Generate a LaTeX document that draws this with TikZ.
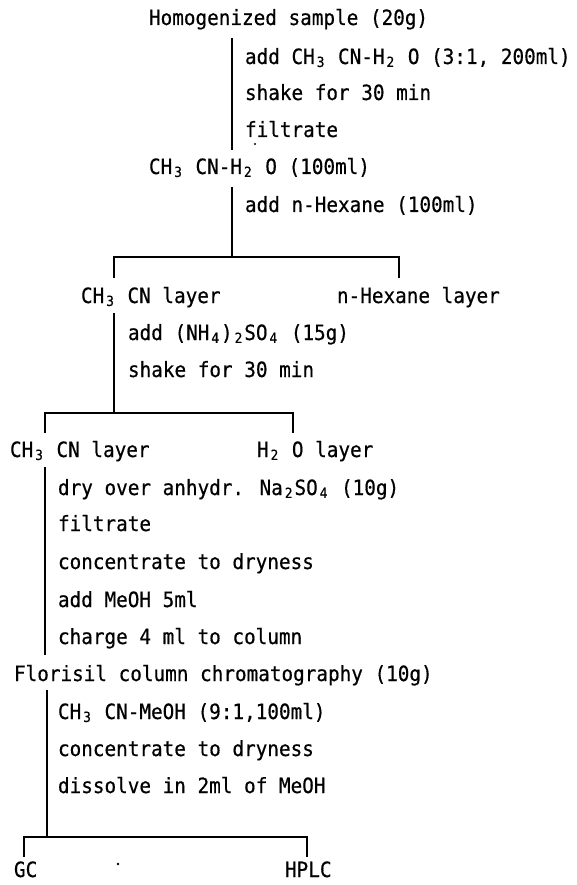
\documentclass[tikz,border=0pt]{standalone}
\usepackage{fontspec}
\newfontfamily\dmono[FakeStretch=0.92,FakeBold=0.5]{DejaVu Sans Mono}
\newsavebox\cellbox
\newcommand\sbs[1]{\sbox\cellbox{0}\makebox[\wd\cellbox][c]{\raisebox{-0.14em}{\fontsize{14}{14}\selectfont #1}}}
\tikzset{
  txt/.style={anchor=base west, inner sep=0pt, outer sep=0pt, font=\fontsize{21}{22}\dmono},
  ln/.style={line width=1.1pt, line cap=butt},
}
\begin{document}
\begin{tikzpicture}[x=1pt,y=-1pt]
\path[use as bounding box, fill=white] (0,0) rectangle (576,885);
% texts
\node[txt] (t1) at (149,25) {Homogenized sample (20g)};
\node[txt] (t2) at (245,64) {add CH\sbs{3} CN-H\sbs{2} O (3:1, 200ml)};
\node[txt] (t3) at (245,100) {shake for 30 min};
\node[txt] (t4) at (245,137) {filtrate};
\node[txt] (t5) at (149,174) {CH\sbs{3} CN-H\sbs{2} O (100ml)};
\node[txt] (t6) at (245,212) {add n-Hexane (100ml)};
\node[txt] (t7) at (81,303) {CH\sbs{3} CN layer};
\node[txt] (t8) at (337,303) {n-Hexane layer};
\node[txt] (t9) at (128,340) {add (NH\sbs{4})\sbs{2}SO\sbs{4} (15g)};
\node[txt] (t10) at (128,377) {shake for 30 min};
\node[txt] (t11) at (10,457) {CH\sbs{3} CN layer};
\node[txt] (t12) at (257,457) {H\sbs{2} O layer};
\node[txt] (t13) at (58,495) {dry over anhydr. Na\sbs{2}SO\sbs{4} (10g)};
\node[txt] (t14) at (58,531) {filtrate};
\node[txt] (t15) at (58,569) {concentrate to dryness};
\node[txt] (t16) at (58,607) {add MeOH 5ml};
\node[txt] (t17) at (58,644) {charge 4 ml to column};
\node[txt] (t18) at (14,681) {Florisil column chromatography (10g)};
\node[txt] (t19) at (58,719) {CH\sbs{3} CN-MeOH (9:1,100ml)};
\node[txt] (t20) at (58,756) {concentrate to dryness};
\node[txt] (t21) at (58,793) {dissolve in 2ml of MeOH};
\node[txt] (t22) at (14,877) {GC};
\node[txt] (t23) at (285,877) {HPLC};
% connector points
\coordinate (a1) at (232,38);
\coordinate (a2) at (232,150);
\coordinate (b1) at (232,187);
\coordinate (b2) at (232,257);
\coordinate (b3) at (114,257);
\coordinate (b4) at (399,257);
\coordinate (b5) at (114,278);
\coordinate (b6) at (399,278);
\coordinate (c1) at (114,313);
\coordinate (c2) at (114,413);
\coordinate (c3) at (45,413);
\coordinate (c4) at (293,413);
\coordinate (c5) at (45,433);
\coordinate (c6) at (293,433);
\coordinate (d1) at (45,467);
\coordinate (d2) at (45,655);
\coordinate (e1) at (47,690);
\coordinate (e2) at (47,837);
\coordinate (e3) at (24,837);
\coordinate (e4) at (307,837);
\coordinate (e5) at (24,857);
\coordinate (e6) at (307,857);
% connectors
\draw[ln] (a1) -- (a2);
\draw[ln] (b1) -- (b2);
\draw[ln] (b5) -- (b3) -- (b4) -- (b6);
\draw[ln] (c1) -- (c2);
\draw[ln] (c5) -- (c3) -- (c4) -- (c6);
\draw[ln] (d1) -- (d2);
\draw[ln] (e1) -- (e2);
\draw[ln] (e5) -- (e3) -- (e4) -- (e6);
% specks
\fill (255,144) circle (1.2pt);
\fill (118,864) circle (1.3pt);
\end{tikzpicture}
\end{document}
